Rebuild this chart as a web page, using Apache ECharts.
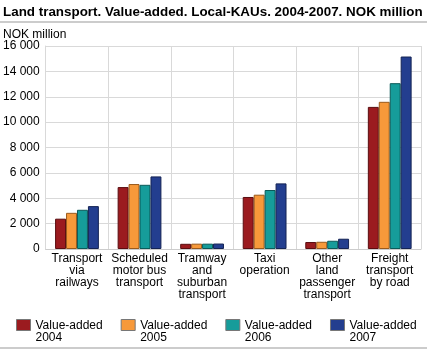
<!DOCTYPE html>
<html>
<head>
<meta charset="utf-8">
<script src="https://cdn.jsdelivr.net/npm/echarts@6/dist/echarts.min.js"></script>
<style>
  html, body { margin: 0; padding: 0; background: #fff; }
  #chart { width: 427px; height: 350px; }
</style>
</head>
<body>
<div id="chart"></div>
<script>
// categories and values (NOK million)
const categories = [
  'Transport\nvia\nrailways',
  'Scheduled\nmotor bus\ntransport',
  'Tramway\nand\nsuburban\ntransport',
  'Taxi\noperation',
  'Other\nland\npassenger\ntransport',
  'Freight\ntransport\nby road'
]
const seriesNames = ['Value-added 2004', 'Value-added 2005', 'Value-added 2006', 'Value-added 2007']
const values2004 = [2390, 4880, 410, 4100, 550, 11200]
const values2005 = [2850, 5120, 420, 4280, 570, 11600]
const values2006 = [3090, 5060, 420, 4650, 650, 13070]
const values2007 = [3380, 5720, 430, 5170, 810, 15170]
const colors = ['#9b1b1f', '#f7993a', '#169c9a', '#233e8f']
const borders = ['#5a0d10', '#9a5a1c', '#0b5a59', '#142354']

const chart = echarts.init(document.getElementById('chart'))
const font = 'Liberation Sans, Arial, sans-serif'

const makeSeries = (name, data, i) => ({
  name: name,
  type: 'bar',
  data: data,
  barGap: '0%',
  barCategoryGap: '30%',
  itemStyle: {
    color: colors[i],
    borderColor: borders[i],
    borderWidth: 1
  }
})

const option = {
  animation: false,
  textStyle: { fontFamily: font },
  title: [
    {
      text: 'Land transport. Value-added. Local-KAUs. 2004-2007. NOK million',
      left: -2,
      top: 1,
      textStyle: { fontFamily: font, fontSize: 13.4, fontWeight: 'bold', color: '#000' }
    },
    {
      text: 'NOK million',
      left: -2,
      top: 24,
      textStyle: { fontFamily: font, fontSize: 12, fontWeight: 'normal', color: '#000' }
    }
  ],
  graphic: [
    { type: 'rect', shape: { x: 0, y: 21, width: 427, height: 2 }, style: { fill: '#cccccc' } },
    { type: 'rect', shape: { x: 0, y: 347, width: 427, height: 2 }, style: { fill: '#cccccc' } }
  ],
  grid: { left: 45, right: 6, top: 46, bottom: 101 },
  legend: {
    left: 11,
    top: 314,
    itemWidth: 14,
    itemHeight: 24,
    itemGap: 18,
    // box drawn in the top part so it lines up with the first text line
    icon: 'path://M0,0L14,0L14,11L0,11Z M0,24L0,24',
    formatter: name => name.replace(' ', '\n'),
    textStyle: {
      fontFamily: font, fontSize: 12, color: '#000', lineHeight: 12
    },
    itemStyle: { borderWidth: 1, borderColor: '#777' }
  },
  xAxis: {
    type: 'category',
    data: categories,
    axisLine: { lineStyle: { color: '#cccccc' } },
    axisTick: { show: false },
    splitLine: { show: true, lineStyle: { color: '#d9d9d9', width: 1 } },
    axisLabel: {
      interval: 0,
      margin: 4,
      color: '#000',
      fontSize: 12,
      lineHeight: 12,
      fontFamily: font
    }
  },
  yAxis: {
    type: 'value',
    min: 0,
    max: 16000,
    interval: 2000,
    axisLine: { show: true, lineStyle: { color: '#d9d9d9' } },
    axisTick: { show: false },
    splitLine: { lineStyle: { color: '#d9d9d9', width: 1 } },
    axisLabel: {
      margin: 6,
      color: '#000',
      fontSize: 12,
      fontFamily: font,
      formatter: v => String(v).replace(/\B(?=(\d{3})+(?!\d))/g, ' ')
    }
  },
  series: [
    makeSeries(seriesNames[0], values2004, 0),
    makeSeries(seriesNames[1], values2005, 1),
    makeSeries(seriesNames[2], values2006, 2),
    makeSeries(seriesNames[3], values2007, 3)
  ]
}

chart.setOption(option)
</script>
</body>
</html>
